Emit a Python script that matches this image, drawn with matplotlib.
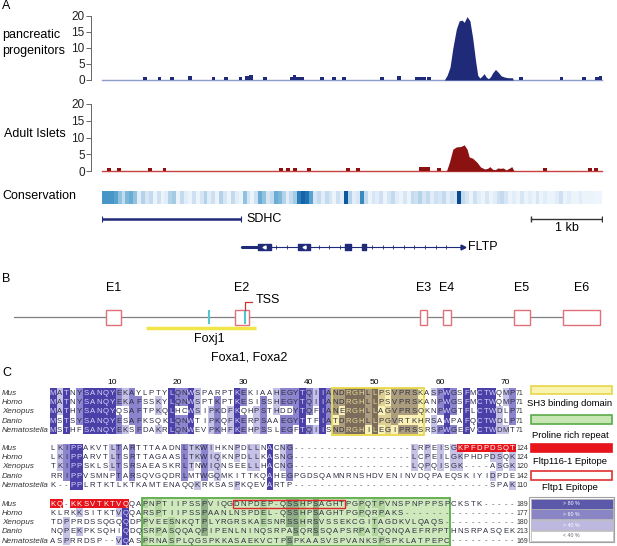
import matplotlib
matplotlib.use("Agg")
import matplotlib.pyplot as plt
from matplotlib.patches import Rectangle
from collections import Counter
import numpy as np

plt.rcParams["font.family"] = ["Liberation Sans", "DejaVu Sans"]

# ---------------- data: panel A (positions in kb along the locus) ----------------
LOCUS_KB = 7.04

prog_blip_kb = [0.60, 0.81, 0.98, 1.24, 1.57, 1.74, 1.95, 2.04, 2.10, 2.29,
                2.67, 2.71, 2.76, 2.81, 3.10, 3.27, 3.41, 3.94, 4.18, 4.43,
                4.49, 4.54, 4.60, 5.90, 6.47, 6.79, 6.97, 7.03]
prog_blip_val = [0.8, 0.8, 0.8, 1.3, 0.8, 0.8, 0.8, 1.1, 1.6, 0.8,
                 1.0, 1.5, 1.0, 0.8, 0.8, 0.8, 0.8, 0.8, 1.3, 1.0,
                 0.9, 0.9, 0.8, 0.8, 0.8, 0.8, 1.0, 1.1]
prog_peak_kb = [4.82, 4.86, 4.90, 4.94, 4.99, 5.03, 5.07, 5.10, 5.14, 5.18,
                5.22, 5.26, 5.29, 5.32, 5.35, 5.38, 5.41, 5.44, 5.47, 5.50,
                5.54, 5.58, 5.62, 5.67, 5.72, 5.78, 5.79]
prog_peak_val = [0, 1.5, 4, 10, 16, 18.5, 18.7, 18, 19.8, 18.5,
                 13, 6, 1.5, 0.6, 1.2, 2.0, 0.9, 0.4, 1.0, 2.2,
                 3.3, 2.4, 1.3, 0.9, 0.7, 0.7, 0]

isl_blip_kb = [0.10, 0.24, 0.68, 0.88, 2.52, 2.62, 2.72, 2.92, 3.46, 3.60,
               4.49, 4.54, 4.59, 4.75, 6.24, 6.87, 6.96]
isl_blip_val = [0.8, 0.8, 0.8, 0.8, 0.8, 0.8, 0.8, 0.8, 0.8, 0.8,
                1.1, 1.3, 1.1, 0.8, 0.8, 0.8, 0.8]
isl_peak_kb = [4.85, 4.89, 4.94, 4.99, 5.05, 5.10, 5.14, 5.17, 5.22, 5.28,
               5.33, 5.39, 5.43, 5.46, 5.50, 5.54, 5.57, 5.61, 5.65, 5.69,
               5.74, 5.77, 5.80]
isl_peak_val = [0, 2.5, 6.5, 7.2, 7.3, 7.8, 6.5, 4.2, 3.8, 2.6,
                1.2, 0.6, 0.8, 1.3, 0.5, 0.4, 0.9, 0.8, 0.9, 0.3,
                0.9, 1.3, 0]

conservation = [0.65, 0.65, 0.65, 0.6, 0.45, 0.3, 0.5, 0.55, 0.45, 0.15,
                0.35, 0.2, 0.3, 0.1, 0.25, 0.1, 0.15, 0.35, 0.4, 0.1,
                0.3, 0.15, 0.1, 0.25, 0.1, 0.2, 0.35, 0.15, 0.25, 0.1,
                0.35, 0.2, 0.1, 0.3, 0.15, 0.1, 0.45, 0.2, 0.1, 0.25,
                0.55, 0.45, 0.2, 0.3, 0.55, 0.5, 0.35, 0.15, 0.3, 0.4,
                0.75, 0.85, 0.8, 0.6, 0.2, 0.3, 0.15, 0.3, 0.2, 0.1,
                0.25, 0.15, 0.9, 0.35, 0.15, 0.2, 0.7, 0.3, 0.1, 0.2,
                0.15, 0.25, 0.1, 0.2, 0.3, 0.15, 0.1, 0.2, 0.1, 0.3,
                0.25, 0.35, 0.2, 0.3, 0.15, 0.25, 0.2, 0.3, 0.15, 0.25,
                0.2, 0.95, 0.3, 0.2, 0.1, 0.25, 0.15, 0.1, 0.2, 0.1,
                0.15, 0.25, 0.3, 0.2, 0.1, 0.15, 0.1, 0.2, 0.1, 0.15,
                0.1, 0.2, 0.1, 0.15, 0.1, 0.1, 0.15, 0.25, 0.1, 0.15,
                0.1, 0.1, 0.15, 0.1, 0.1, 0.1, 0.08, 0.08]

sdhc_kb = (0.0, 1.96)
fltp_kb = (1.96, 5.08)
fltp_utr_kb = (1.96, 2.19)
fltp_exons_kb = [(2.19, 2.38), (2.76, 2.93), (3.42, 3.50), (3.66, 3.72)]
scalebar_kb = (6.04, 7.04)

# ---------------- data: panel B (positions in kb) ----------------
B_LEN = 29.3
exon_names = ["E1", "E2", "E3", "E4", "E5", "E6"]
exon_start = [4.6, 11.05, 20.3, 21.45, 25.0, 27.45]
exon_end = [5.35, 11.75, 20.65, 21.85, 25.8, 29.3]
fox_sites = [9.75, 11.55]
tss_kb = 11.55
foxj1_region = (6.6, 12.1)

# ---------------- data: panel C alignment ----------------
species = ["Mus", "Homo", "Xenopus", "Danio", "Nematostella"]
block1 = ["MATNYSANQYEKAYLPTYLQNWSPARPTKEKIAAHEGYTQIIANDRGHLLPSVPRSKASPWGSFMCTWQMP",
          "MATNYSANQYEKAFSSKYLQNWSPTKPTKESISSHEGYTQIIANDRGHLLPSVPRSKANPWGSFMCTWQMP",
          "MATHYSANQYQSAFTPKQLHCWSIPKDFKQHPSTHDDYTQFIANERGHLLAGVPRSQKNPWGTFLCTWDLP",
          "MSTSYSANQYESAFKSQKLQNWTIPKQFKERPSAAEGYTTFIATDRGHLLPGVRTKHRSAWPAFQCTWDLP",
          "MSTHFSANQYEKSFDAKRLQNWEVPKHFKEHPSSLEGFTQIISNDRGHILEGIPRSSRSPWGEFVCTWDMT"]
block2 = ["LKIPPAKVTLTARTTTAADNLTKWIHKNPDLLNACNG------------------LRPEISGKPFDPDSQT",
          "LKIPPARVTLTSRTTAGAASLTKWIQKNPDLLKASNG------------------LCPEILGKPHDPDSQK",
          "TKIPPSKLSLTSRSAEASKRLTNWIQNSEELLHACNG------------------LQPQISGK----ASGK",
          "RRIPPVSMNPTARSQVGQDRLMTWGQMKITTKQAHEGPGDSQAMNRNSHDVENINVDQPAEQSKIYIDPDE",
          "K--PPLRTKTLKTKAMTENAQQKRKSASPKQEVARTP------------------------------SPAK"]
block3 = ["KQ-KKSVTKTVQQAPNPTIIPSSPVIQGDNPDEP-QSSHPSAGHTPGPQTPVNSPNPPPSPCKSTK----",
          "KLRKKSITKTVQQARSPTIIPSSPAANLNSPDEL-QSSHPSAGHTPGPQRPAKS-----------------",
          "TDPPRDSSQGQQDPPVEESNKQTPLYRGRSKAESNRSSHRSVSSEKCGITAGDKVLQAQS----------",
          "NQPEKPKSQHIQDQSRPASQQAQPIPENLNINQSRPASQRSSQAPSRPATQQNQAEFRPPTHNSRPASQEK",
          "ASPRRDSP--VQASPRNASPLQGSPKKASAEKVCTPSPKAASVSPVANKSPSPKLATPEPC----------"]
blocks = [block1, block2, block3]
block_ends = [[71, 71, 71, 71, 71], [124, 124, 120, 142, 110], [189, 177, 180, 213, 169]]
ruler_ticks = [10, 20, 30, 40, 50, 60, 70]
N_COLS = 71

# (block, first col, last col) regions
sh3_region = (0, 44, 57)
proline_region = (2, 15, 61)
epitope116 = [(1, 63, 71), (2, 1, 2), (2, 4, 12)]   # Mus row, filled red
epitope1 = (2, 29, 45)                              # Mus row, red outline

# ---------------- figure ----------------
W, H = 617, 546
fig = plt.figure(figsize=(W / 100, H / 100), dpi=100)


def px_axes(x0, y0, x1, y1):
    ax = fig.add_axes([x0 / W, 1 - y1 / H, (x1 - x0) / W, (y1 - y0) / H])
    ax.patch.set_visible(False)
    return ax


def px_text(x, y, s, **kw):
    kw.setdefault("va", "center")
    kw.setdefault("fontsize", 9)
    fig.text(x / W, 1 - y / H, s, **kw)


TX0, TX1 = 102, 602
NAVY = "#1f2a78"
DARKRED = "#8c1212"


def coverage_track(y_top, y_bot, blip_kb, blip_val, peak_kb, peak_val, fill, base):
    ax = px_axes(TX0, y_top, TX1, y_bot)
    ax.set_xlim(0, LOCUS_KB)
    ax.set_ylim(0, 20)
    ax.bar(blip_kb, blip_val, width=0.055, color=fill, linewidth=0)
    ax.fill_between(peak_kb, peak_val, color=fill, linewidth=0)
    ax.axhline(0, color=base, lw=1.0, clip_on=False, zorder=0)
    for s in ["top", "right", "bottom"]:
        ax.spines[s].set_visible(False)
    ax.spines["left"].set_position(("outward", 8))
    ax.spines["left"].set_color("#666666")
    ax.spines["left"].set_linewidth(0.7)
    ax.set_xticks([])
    ax.set_yticks([0, 5, 10, 15, 20])
    ax.tick_params(axis="y", labelsize=8.5, length=3.5, width=0.7,
                   color="#666666", pad=1, labelcolor="#222222")
    return ax


# panel A
px_text(2, 6, "A", fontsize=9)
px_text(2, 35, "pancreatic", fontsize=9)
px_text(2, 51, "progenitors", fontsize=9)
coverage_track(16, 80, prog_blip_kb, prog_blip_val, prog_peak_kb, prog_peak_val,
               NAVY, "#8e9ccc")
px_text(4, 134, "Adult Islets", fontsize=9)
coverage_track(104, 171, isl_blip_kb, isl_blip_val, isl_peak_kb, isl_peak_val,
               DARKRED, "#c84040")

px_text(2, 196, "Conservation", fontsize=9)
ax_cons = px_axes(TX0, 191, TX1, 204)
ax_cons.imshow(np.array(conservation)[None, :], aspect="auto", cmap="Blues",
               vmin=0.04, vmax=1.05, extent=(0, LOCUS_KB, 0, 1),
               interpolation="nearest")
ax_cons.set_xlim(0, LOCUS_KB)
ax_cons.axis("off")

# gene models (y=1: SDHC row, y=0: FLTP row; 28 px apart)
ax_g = px_axes(TX0, 210, TX1, 256)
ax_g.set_xlim(0, LOCUS_KB)
ax_g.set_ylim(-9 / 28, 1 + 9 / 28)
ax_g.axis("off")
ax_g.plot(sdhc_kb, [1, 1], color=NAVY, lw=1.8, solid_capstyle="butt")
ax_g.plot(sdhc_kb, [1, 1], ls="none", marker="|", ms=4, mew=0.8, color=NAVY)
ax_g.text(sdhc_kb[1] + 0.08, 1, "SDHC", fontsize=9, va="center")
ax_g.plot(scalebar_kb, [1, 1], color="#333333", lw=1.0)
ax_g.plot(scalebar_kb, [1, 1], ls="none", marker="|", ms=5, mew=1.0, color="#333333")
ax_g.text(np.mean(scalebar_kb), 1 - 9 / 28, "1 kb", fontsize=9, ha="center", va="center")

ax_g.plot(fltp_kb, [0, 0], color=NAVY, lw=0.8)
ax_g.plot(fltp_utr_kb, [0, 0], color=NAVY, lw=2.2, solid_capstyle="butt")
ax_g.broken_barh([(s, e - s) for s, e in fltp_exons_kb], (-0.1, 0.2), color=NAVY)
intron_marks = [x for x in np.arange(2.45, 5.0, 0.15)
                if not any(s - 0.03 < x < e + 0.03 for s, e in fltp_exons_kb)]
ax_g.plot(intron_marks, [0] * len(intron_marks), ls="none", marker="|",
          ms=3, mew=0.6, color=NAVY)
ax_g.plot([np.mean(fltp_exons_kb[0]), np.mean(fltp_exons_kb[1])], [0, 0], ls="none",
          marker="<", ms=2.2, color="white")
ax_g.plot([fltp_kb[1]], [0], marker=">", ms=3.5, color=NAVY)
ax_g.text(fltp_kb[1] + 0.08, 0, "FLTP", fontsize=9, va="center")

# panel B (1 y unit = 15 px, line at y=0 at px 317)
px_text(2, 279, "B", fontsize=9)
ax_b = px_axes(14, 280, 600, 362)
ax_b.set_xlim(0, B_LEN)
ax_b.set_ylim(-45 / 15, 37 / 15)
ax_b.axis("off")
ax_b.plot([0, B_LEN], [0, 0], color="#808080", lw=0.9, zorder=1)
for name, s, e in zip(exon_names, exon_start, exon_end):
    ax_b.add_patch(Rectangle((s, -0.5), e - s, 1.0, facecolor="white",
                             edgecolor="#e0707a", lw=1.0, zorder=2, clip_on=False))
    ax_b.text((s + e) / 2, 1.93, name, ha="center", va="center", fontsize=9)
ax_b.vlines(fox_sites, -0.45, 0.45, color="#55c6d0", lw=1.5, zorder=3)
ax_b.plot([tss_kb, tss_kb, tss_kb + 0.35], [0.5, 1.0, 1.0], color="#d03030", lw=0.9, zorder=3)
ax_b.text(tss_kb + 0.55, 1.13, "TSS", fontsize=9, va="center")
ax_b.plot(foxj1_region, [-0.73, -0.73], color="#f2e54a", lw=2.5, solid_capstyle="butt")
ax_b.text(fox_sites[0], -1.47, "Foxj1", fontsize=9, ha="center", va="center")
ax_b.text(tss_kb + 0.2, -2.67, "Foxa1, Foxa2", fontsize=9, ha="center", va="center")

# panel C
px_text(2, 373, "C", fontsize=9)
COL_W = 6.56
COL1_X = 53.0
ROW_H = 9.2
block_tops = [388.5, 443.5, 499.3]

normal_pal = ["#ffffff", "#c6c2e6", "#8c84cc", "#4a40a8"]
yellow_pal = ["#fbf3b6", "#ddd094", "#ac9d7e", "#7b6c5b"]
green_pal = ["#cfe9bd", "#b2d49e", "#90ae85", "#6f8b69"]
RED = "#e8141c"


def levels(seqs):
    rows = [s.ljust(N_COLS, "-")[:N_COLS] for s in seqs]
    lev = np.zeros((len(rows), N_COLS), dtype=int)
    for j in range(N_COLS):
        col = [r[j] for r in rows if r[j] != "-"]
        if not col:
            continue
        res, n = Counter(col).most_common(1)[0]
        lvl = {5: 3, 4: 2, 3: 1}.get(n, 0)
        for i, r in enumerate(rows):
            if r[j] == res:
                lev[i, j] = lvl
    return rows, lev


def in_region(region, b, j):
    rb, c0, c1 = region
    return rb == b and c0 <= j + 1 <= c1


for b, seqs in enumerate(blocks):
    top = block_tops[b]
    x0 = COL1_X - COL_W / 2
    ax = px_axes(x0, top, x0 + N_COLS * COL_W, top + 5 * ROW_H)
    ax.set_xlim(0.5, N_COLS + 0.5)
    ax.set_ylim(5, 0)
    ax.axis("off")
    rows, lev = levels(seqs)
    img = np.ones((5, N_COLS, 3))
    for i in range(5):
        for j in range(N_COLS):
            pal = normal_pal
            if in_region(sh3_region, b, j):
                pal = yellow_pal
            elif in_region(proline_region, b, j):
                pal = green_pal
            color = pal[lev[i, j]]
            red = i == 0 and any(in_region(r, b, j) for r in epitope116)
            if red:
                color = RED
            img[i, j] = matplotlib.colors.to_rgb(color)
            ch = rows[i][j]
            if red:
                tc = "white"
            elif ch == "-":
                tc = "#555555"
            elif lev[i, j] == 3:
                tc = "#e6dc96" if pal is yellow_pal else ("#dfeed6" if pal is green_pal else "#d8d4f6")
            else:
                tc = "#2e2e44"
            ax.text(j + 1, i + 0.55, ch, ha="center", va="center", fontsize=5.6, color=tc)
    ax.imshow(img, aspect="auto", extent=(0.5, N_COLS + 0.5, 5, 0),
              interpolation="nearest", zorder=0)
    for i, sp in enumerate(species):
        px_text(2, top + (i + 0.55) * ROW_H, sp, fontsize=5.8, style="italic", color="#333333")
        ax.text(N_COLS + 0.6, i + 0.55, str(block_ends[b][i]), ha="left", va="center",
                fontsize=5.0, color="#333333", clip_on=False)
    if b == 0:
        for t in ruler_ticks:
            ax.text(t, -0.6, str(t), ha="center", va="center", fontsize=6, clip_on=False)
    for region, fc, ec in [(sh3_region, "none", "#e8d848"), (proline_region, "none", "#5aaa48")]:
        rb, c0, c1 = region
        if rb == b:
            ax.add_patch(Rectangle((c0 - 0.5, -0.1), c1 - c0 + 1, 5.2, facecolor=fc,
                                   edgecolor=ec, lw=1.3, clip_on=False))
    rb, c0, c1 = epitope1
    if rb == b:
        ax.add_patch(Rectangle((c0 - 0.5, 0.05), c1 - c0 + 1, 0.9, facecolor="none",
                               edgecolor="#e02828", lw=1.0, clip_on=False))

# legend (pixel layout)
ax_l = px_axes(520, 380, 617, 546)
ax_l.set_xlim(520, 617)
ax_l.set_ylim(546, 380)
ax_l.axis("off")
swatches = [("#fbf3b0", "#e6d648", 386, 394, "SH3 binding domain", 404),
            ("#c8e6b4", "#5aaa48", 415, 424, "Proline rich repeat", 436),
            (RED, RED, 444, 452, "Fltp116-1 Epitope", 461),
            ("#ffffff", "#e03030", 471, 480, "Fltp1 Epitope", 488)]
for fc, ec, y0, y1, label, ty in swatches:
    ax_l.add_patch(Rectangle((531, y0), 81, y1 - y0, facecolor=fc, edgecolor=ec, lw=1.2))
    ax_l.text(570, ty, label, ha="center", va="center", fontsize=6.8)
ax_l.add_patch(Rectangle((529, 497), 85, 45, facecolor="white", edgecolor="#a0a0a0", lw=0.8))
pct_colors = ["#5c58aa", "#8a86c6", "#bcb8e0", "#ffffff"]
pct_labels = ["> 80 %", "> 60 %", "> 40 %", "< 40 %"]
for k, (c, lab) in enumerate(zip(pct_colors, pct_labels)):
    y0 = 498.5 + k * 10.8
    ax_l.add_patch(Rectangle((530.5, y0), 82, 10, facecolor=c, edgecolor="#b0b0b0", lw=0.5))
    ax_l.text(571.5, y0 + 5, lab, ha="center", va="center", fontsize=3.8,
              color="white" if k < 3 else "#666666")

fig.savefig("out.png", dpi=100)
